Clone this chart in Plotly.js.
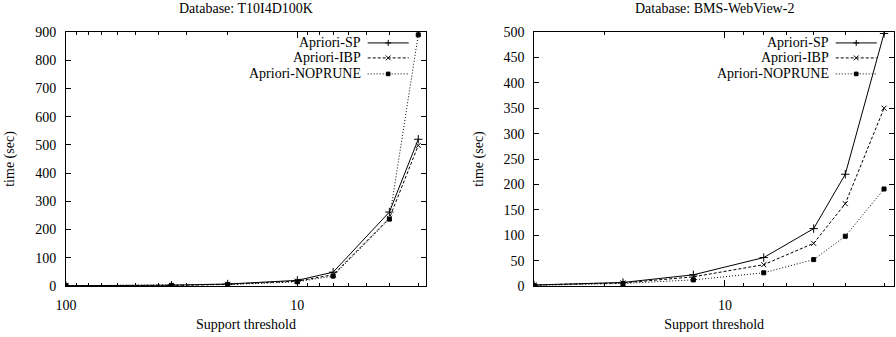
<!DOCTYPE html>
<html>
<head>
<meta charset="utf-8">
<script src="https://cdn.plot.ly/plotly-3.0.1.min.js"></script>
<style>html,body{margin:0;padding:0;background:#fff;}#chart{width:896px;height:337px;}</style>
</head>
<body>
<div id="chart"></div>
<script>
// Left chart: Database T10I4D100K
const supportA = [100, 35, 20, 10, 7, 4, 3];
const spA      = [1, 3, 7, 20, 49, 262, 520];
const ibpA     = [1, 2, 6, 17, 40, 240, 498];
const nopruneA = [1, 2, 5, 15, 35, 237, 890];

// Right chart: Database BMS-WebView-2
const supportB = [30, 18, 12, 8, 6, 5, 4];
const spB      = [2, 7, 22, 56, 113, 220, 497];
const ibpB     = [2, 6, 18, 42, 84, 162, 350];
const nopruneB = [1, 5, 12, 26, 52, 98, 191];

const seriesNames = ['Apriori-SP', 'Apriori-IBP', 'Apriori-NOPRUNE'];
const titles = ['Database: T10I4D100K', 'Database: BMS-WebView-2'];
const xTitle = 'Support threshold';
const yTitle = 'time (sec)';
const majorA = [100, 10];
const minorA = [90, 80, 70, 60, 50, 40, 30, 20, 9, 8, 7, 6, 5, 4, 3];
const majorB = [10];
const minorB = [30, 20, 9, 8, 7, 6, 5, 4];

const FONT = 'Liberation Serif, Times New Roman, serif';
const styles = [
  {dash: 'solid',   symbol: 'cross-thin', size: 6},
  {dash: '3px,2px', symbol: 'x-thin', size: 5},
  {dash: '1px,2px', symbol: 'square', size: 4}
];

function mk(x, y, i, xa, ya) {
  const s = styles[i];
  return {
    x: x, y: y, type: 'scatter', mode: 'lines+markers', name: seriesNames[i],
    xaxis: xa, yaxis: ya, showlegend: false,
    line: {color: '#000', width: 1, dash: s.dash},
    marker: {symbol: s.symbol, size: s.size, color: '#000', line: {color: '#000', width: 1}}
  };
}

const data = [
  mk(supportA, spA, 0, 'x', 'y'),
  mk(supportA, ibpA, 1, 'x', 'y'),
  mk(supportA, nopruneA, 2, 'x', 'y'),
  mk(supportB, spB, 0, 'x2', 'y2'),
  mk(supportB, ibpB, 1, 'x2', 'y2'),
  mk(supportB, nopruneB, 2, 'x2', 'y2')
];

function xax(domain, range, major, minor, anchor) {
  return {
    domain: domain, anchor: anchor, type: 'log', range: range,
    tickmode: 'array', tickvals: major, ticktext: major.map(String),
    ticks: 'inside', ticklen: 6, tickcolor: '#000', tickwidth: 1,
    minor: {tickmode: 'array', tickvals: minor, ticks: 'inside', ticklen: 3, tickcolor: '#000', tickwidth: 1, showgrid: false},
    showline: true, linecolor: '#000', linewidth: 1, mirror: 'ticks',
    showgrid: false, zeroline: false, ticklabelstandoff: 6,
    tickfont: {family: FONT, size: 14, color: '#000'},
    title: {text: xTitle, font: {family: FONT, size: 14, color: '#000'}, standoff: 7}
  };
}
function yax(range, dtick, anchor, standoff) {
  return {
    anchor: anchor, range: range, dtick: dtick, tick0: 0,
    ticks: 'inside', ticklen: 5, tickcolor: '#000', tickwidth: 1,
    showline: true, linecolor: '#000', linewidth: 1, mirror: 'ticks',
    showgrid: false, zeroline: false, ticklabelstandoff: 6,
    tickfont: {family: FONT, size: 14, color: '#000'},
    title: {text: yTitle, font: {family: FONT, size: 14, color: '#000'}, standoff: standoff}
  };
}

// gnuplot-style key: right-aligned text followed by a line sample with its marker
const keyRows = [0.957, 0.898, 0.835];
const keyTextX = 0.826, keyLine0 = 0.838, keyLine1 = 0.952, keyMark = 0.895;
const mx = 3 / 360, my = 3 / 254; // marker half-size as domain fractions
const annotations = [
  {text: titles[0], xref: 'x domain', yref: 'paper', x: 0.5, y: 1, yanchor: 'bottom', yshift: 14, showarrow: false, font: {family: FONT, size: 14, color: '#000'}},
  {text: titles[1], xref: 'x2 domain', yref: 'paper', x: 0.5, y: 1, yanchor: 'bottom', yshift: 14, showarrow: false, font: {family: FONT, size: 14, color: '#000'}}
];
const shapes = [];
[['x domain', 'y domain'], ['x2 domain', 'y2 domain']].forEach(function (refs) {
  seriesNames.forEach(function (nm, i) {
    const yy = keyRows[i];
    const r = {xref: refs[0], yref: refs[1]};
    const solid = {color: '#000', width: 1};
    annotations.push({text: nm, xref: refs[0], yref: refs[1], x: keyTextX, y: yy, xanchor: 'right', yanchor: 'middle', showarrow: false, font: {family: FONT, size: 14, color: '#000'}});
    shapes.push(Object.assign({type: 'line', x0: keyLine0, x1: keyLine1, y0: yy, y1: yy, line: {color: '#000', width: 1, dash: styles[i].dash}}, r));
    if (i === 0) {
      shapes.push(Object.assign({type: 'line', x0: keyMark - mx, x1: keyMark + mx, y0: yy, y1: yy, line: solid}, r));
      shapes.push(Object.assign({type: 'line', x0: keyMark, x1: keyMark, y0: yy - my, y1: yy + my, line: solid}, r));
    } else if (i === 1) {
      shapes.push(Object.assign({type: 'line', x0: keyMark - mx * 0.8, x1: keyMark + mx * 0.8, y0: yy - my * 0.8, y1: yy + my * 0.8, line: solid}, r));
      shapes.push(Object.assign({type: 'line', x0: keyMark - mx * 0.8, x1: keyMark + mx * 0.8, y0: yy + my * 0.8, y1: yy - my * 0.8, line: solid}, r));
    } else {
      shapes.push(Object.assign({type: 'rect', x0: keyMark - mx * 0.6, x1: keyMark + mx * 0.6, y0: yy - my * 0.6, y1: yy + my * 0.6, fillcolor: '#000', line: solid}, r));
    }
  });
});

const layout = {
  width: 896, height: 337,
  margin: {l: 66, r: 2, t: 32, b: 51},
  paper_bgcolor: '#fff', plot_bgcolor: '#fff',
  font: {family: FONT, size: 14, color: '#000'},
  xaxis: xax([0, 0.4348], [2, 0.4436], majorA, minorA, 'y'),
  yaxis: yax([0, 900], 100, 'x', 17),
  xaxis2: xax([0.5656, 1], [Math.log10(30), 0.5771], majorB, minorB, 'y2'),
  yaxis2: yax([0, 500], 50, 'x2', 16),
  showlegend: false,
  annotations: annotations,
  shapes: shapes
};

Plotly.newPlot('chart', data, layout, {displayModeBar: false, staticPlot: true});
</script>
</body>
</html>
